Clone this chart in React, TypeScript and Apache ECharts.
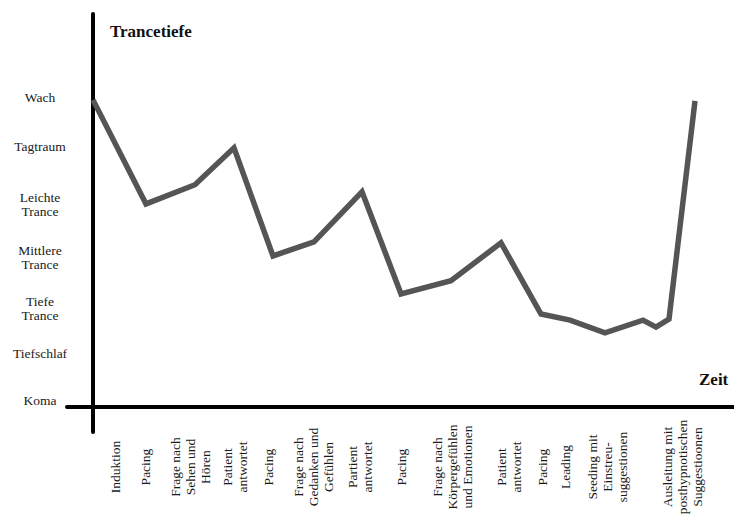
import React, { useEffect, useRef } from "react";
import * as echarts from "echarts";

// Trance depth levels (y axis), value positions
const levelLabels = [
  "Koma",
  "Tiefschlaf",
  "Tiefe\nTrance",
  "Mittlere\nTrance",
  "Leichte\nTrance",
  "Tagtraum",
  "Wach",
];
const levelPositions = [0.12, 1.05, 1.94, 2.95, 4.0, 5.15, 6.12];

// Phases (x axis labels) and their positions on the time axis
const phaseLabels = [
  "Induktion",
  "Pacing",
  "Frage nach\nSehen und\nHören",
  "Patient\nantwortet",
  "Pacing",
  "Frage nach\nGedanken und\nGefühlen",
  "Partient\nantwortet",
  "Pacing",
  "Frage nach\nKörpergefühlen\nund Emotionen",
  "Patient\nantwortet",
  "Pacing",
  "Leading",
  "Seeding mit\nEinstreu-\nsuggestionen",
  "Ausleitung mit\nposthypnotischen\nSuggestioonen",
];
const phasePositions = [2.2, 5.2, 9.7, 14.2, 17.5, 22.0, 26.7, 30.8, 35.9, 41.6, 44.9, 47.2, 51.4, 58.9];

// Trance curve
const timeValues = [0, 5.3, 10.2, 14.1, 18.0, 22.1, 26.9, 30.8, 35.8, 40.8, 44.8, 47.7, 51.2, 55.0, 56.3, 57.6, 60.2];
const depthValues = [6.08, 4.02, 4.4, 5.13, 2.99, 3.27, 4.26, 2.24, 2.5, 3.25, 1.84, 1.72, 1.47, 1.72, 1.58, 1.74, 6.06];

const FONT = "'Liberation Serif', 'DejaVu Serif', serif";

function nearestLabel(v: number, positions: number[], labels: string[]) {
  let best = 0;
  let bd = Infinity;
  positions.forEach((p, i) => {
    const d = Math.abs(p - v);
    if (d < bd) {
      bd = d;
      best = i;
    }
  });
  return labels[best];
}

export default function App() {
  const ref = useRef<HTMLDivElement>(null);

  useEffect(() => {
    if (!ref.current) return;
    const chart = echarts.init(ref.current, null, { renderer: "svg" });
    chart.setOption({
      animation: false,
      backgroundColor: "#ffffff",
      textStyle: { fontFamily: FONT },
      grid: {
        left: 67,
        right: 0,
        top: 14,
        bottom: 82,
        containLabel: false,
        outerBoundsMode: "none",
      },
      xAxis: {
        type: "value",
        min: -2.6,
        max: 64.1,
        axisLine: { show: true, onZero: true, lineStyle: { color: "#000", width: 4 } },
        axisTick: { show: false },
        splitLine: { show: false },
        axisLabel: {
          customValues: phasePositions,
          rotate: 90,
          margin: 35,
          align: "center",
          verticalAlign: "middle",
          fontFamily: FONT,
          fontSize: 13.5,
          lineHeight: 15,
          color: "#1a1a1a",
          showMinLabel: true,
          showMaxLabel: true,
          hideOverlap: false,
          formatter: (v: number) => nearestLabel(v, phasePositions, phaseLabels),
        },
      },
      yAxis: {
        type: "value",
        min: -0.495,
        max: 7.78,
        axisLine: { show: true, onZero: true, lineStyle: { color: "#000", width: 4 } },
        axisTick: { show: false },
        splitLine: { show: false },
        axisLabel: {
          customValues: levelPositions,
          margin: 27,
          align: "center",
          verticalAlign: "middle",
          fontFamily: FONT,
          fontSize: 13.5,
          lineHeight: 14,
          color: "#1a1a1a",
          showMinLabel: true,
          showMaxLabel: true,
          formatter: (v: number) => nearestLabel(v, levelPositions, levelLabels),
        },
      },
      graphic: [
        {
          type: "text",
          left: 110,
          top: 23,
          style: {
            text: "Trancetiefe",
            font: `bold 17px ${FONT}`,
            fill: "#111",
          },
        },
        {
          type: "text",
          left: 699,
          top: 371,
          style: {
            text: "Zeit",
            font: `bold 17px ${FONT}`,
            fill: "#111",
          },
        },
      ],
      series: [
        {
          type: "line",
          data: timeValues.map((t, i) => [t, depthValues[i]]),
          showSymbol: false,
          symbol: "none",
          lineStyle: { color: "#555555", width: 5.5, join: "miter" },
          z: 1,
        },
      ],
    });
    return () => chart.dispose();
  }, []);

  return (
    <div
      ref={ref}
      style={{ position: "fixed", left: 0, top: 0, width: 734, height: 514 }}
    />
  );
}
